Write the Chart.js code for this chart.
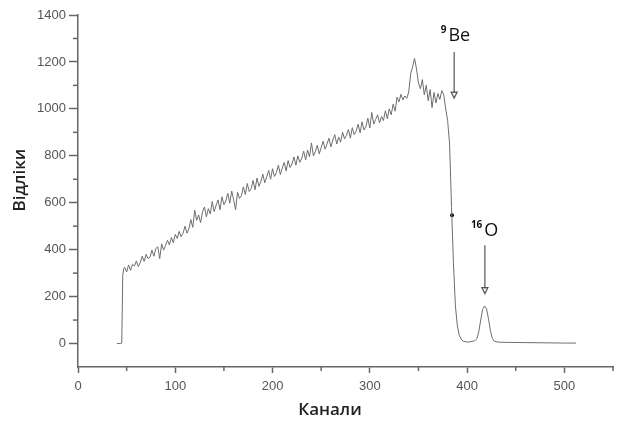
<!DOCTYPE html>
<html>
<head>
<meta charset="utf-8">
<script src="https://cdn.jsdelivr.net/npm/chart.js@4"></script>
<style>
  html, body { margin: 0; padding: 0; background: #fff; }
  #wrap { width: 617px; height: 421px; }
</style>
</head>
<body>
<div id="wrap"><canvas id="spectrum"></canvas></div>
<script>
// Канали (x) і відліки (y)
const kanaly = [
  40, 42, 44, 45, 46, 47, 48,
  50, 52, 54, 56, 58, 60, 62, 64, 66, 68, 70, 72, 74, 76, 78, 80, 82, 84, 86, 88, 90, 92, 94, 96, 98,
  100, 102, 104, 106, 108, 110, 112, 114, 116, 118, 120, 122, 124, 126, 128, 130, 132, 134, 136, 138, 140,
  142, 144, 146, 148, 150, 152, 154, 156, 158, 160, 162, 164, 166, 168, 170, 172, 174, 176, 178, 180,
  182, 184, 186, 188, 190, 192, 194, 196, 198, 200, 202, 204, 206, 208, 210, 212, 214, 216, 218, 220,
  222, 224, 226, 228, 230, 232, 234, 236, 238, 240, 242, 244, 246, 248, 250, 252, 254, 256, 258, 260,
  262, 264, 266, 268, 270, 272, 274, 276, 278, 280, 282, 284, 286, 288, 290, 292, 294, 296, 298, 300,
  302, 304, 306, 308, 310, 312, 314, 316, 318, 320, 322, 324, 326, 328, 330, 332, 334, 336, 338, 340,
  342, 344, 346, 348, 350, 352, 354, 356, 358, 360, 362, 364, 366, 368, 370, 372, 374, 376,
  378, 380, 382, 384, 386, 388, 390, 392, 394, 396, 400, 404, 408, 410, 412, 414, 416, 418, 420,
  422, 424, 426, 428, 432, 440, 460, 480, 500, 512
];
const vidliky = [
  0, 0, 0, 2, 290, 318, 325,
  305, 335, 312, 338, 330, 352, 328, 345, 372, 350,
  380, 362, 368, 398, 372, 405, 412, 362, 425, 398,
  418, 440, 420, 452, 430, 465, 448, 478, 455, 470,
  500, 470, 488, 528, 495, 568, 525, 548, 515, 560,
  582, 540, 575, 552, 605, 562, 590, 612, 570, 625,
  592, 608, 640, 598, 650, 612, 570, 645, 618, 630,
  668, 635, 682, 648, 660, 695, 655, 705, 670, 690,
  722, 685, 710, 738, 700, 745, 712, 728, 760, 720,
  748, 772, 735, 780, 750, 765, 795, 760, 800, 772,
  790, 820, 782, 825, 795, 855, 800, 818, 845, 808,
  835, 862, 828, 850, 875, 838, 868, 890, 850, 880,
  858, 900, 872, 888, 912, 875, 920, 890, 905, 935,
  898, 945, 910, 925, 960, 918, 985, 935, 955, 975,
  940, 968, 950, 992, 958, 1000, 975, 1020, 990, 1050,
  1030, 1062, 1038, 1055, 1045, 1072, 1150, 1180, 1215, 1170,
  1110, 1085, 1125, 1060, 1100, 1035, 1082, 1005, 1070, 1025,
  1065, 1040, 1078, 1060,
  1000, 950, 850, 580, 340, 160, 75, 35, 18, 10, 6, 8, 12, 20, 50, 100, 145, 160, 148,
  105, 55, 22, 10, 6, 5, 4, 3, 2, 2
];

// позначена точка на спаді кривої
const markX = [384.5];
const markY = [547];

// підписи піків і стрілки (канал, відліки)
const peakLabels = [['9', 'Be'], ['16', 'O']];
const labelX = [388, 418];
const labelY = [1318, 490];
const arrowX = [386.7, 418.3];
const arrowFrom = [1242, 419];
const arrowTo = [1046, 213];

const xMinor = [50, 150, 250, 350, 450, 550];
const yMinor = [100, 300, 500, 700, 900, 1100, 1300];

const axisColor = '#666';

const extras = {
  id: 'extras',
  afterDraw(chart) {
    const ctx = chart.ctx;
    const xs = chart.scales.x;
    const ys = chart.scales.y;
    const area = chart.chartArea;
    ctx.save();

    // дрібні поділки
    ctx.strokeStyle = axisColor;
    ctx.lineWidth = 1.5;
    xMinor.forEach(v => {
      const px = xs.getPixelForValue(v);
      ctx.beginPath();
      ctx.moveTo(px, area.bottom);
      ctx.lineTo(px, area.bottom + 4);
      ctx.stroke();
    });
    yMinor.forEach(v => {
      const py = ys.getPixelForValue(v);
      ctx.beginPath();
      ctx.moveTo(area.left, py);
      ctx.lineTo(area.left - 5, py);
      ctx.stroke();
    });

    // стрілки
    ctx.strokeStyle = '#555';
    ctx.lineWidth = 1.2;
    arrowX.forEach((c, i) => {
      const px = xs.getPixelForValue(c);
      const y1 = ys.getPixelForValue(arrowFrom[i]);
      const y2 = ys.getPixelForValue(arrowTo[i]);
      ctx.beginPath();
      ctx.moveTo(px, y1);
      ctx.lineTo(px, y2 - 5);
      ctx.stroke();
      ctx.beginPath();
      ctx.moveTo(px - 3, y2 - 6);
      ctx.lineTo(px + 3, y2 - 6);
      ctx.lineTo(px, y2);
      ctx.closePath();
      ctx.stroke();
    });

    // підписи ізотопів
    ctx.fillStyle = '#111';
    ctx.textBaseline = 'alphabetic';
    peakLabels.forEach((lab, i) => {
      ctx.font = 'bold 10px "Open Sans"';
      const wSup = ctx.measureText(lab[0]).width;
      ctx.font = '18px "Open Sans"';
      const wMain = ctx.measureText(lab[1]).width;
      const cx = xs.getPixelForValue(labelX[i]);
      const cy = ys.getPixelForValue(labelY[i]);
      const start = cx - (wSup + 2 + wMain) / 2;
      ctx.textAlign = 'left';
      ctx.font = 'bold 10px "Open Sans"';
      ctx.fillText(lab[0], start, cy - 1);
      ctx.font = '18px "Open Sans"';
      ctx.fillText(lab[1], start + wSup + 2, cy + 7);
    });

    // назви осей
    ctx.fillStyle = '#222';
    ctx.font = '600 17px "Open Sans"';
    ctx.textAlign = 'center';
    ctx.textBaseline = 'middle';
    ctx.fillText('Канали', 330, 410);
    ctx.translate(20, 180);
    ctx.rotate(-Math.PI / 2);
    ctx.fillText('Відліки', 0, 0);
    ctx.restore();
  }
};

const spectr = kanaly.map((k, i) => ({ x: k, y: vidliky[i] }));
const mark = markX.map((k, i) => ({ x: k, y: markY[i] }));

new Chart(document.getElementById('spectrum'), {
  type: 'line',
  data: {
    datasets: [{
      data: spectr,
      borderColor: '#6e6e6e',
      borderWidth: 1,
      pointRadius: 0,
      tension: 0,
      fill: false
    }, {
      type: 'scatter',
      data: mark,
      pointRadius: 2,
      pointBackgroundColor: '#111',
      pointBorderWidth: 0
    }]
  },
  options: {
    responsive: true,
    maintainAspectRatio: false,
    animation: false,
    layout: { padding: { top: 15, right: 0, left: 0, bottom: 0 } },
    plugins: {
      legend: { display: false },
      tooltip: { enabled: false }
    },
    scales: {
      x: {
        type: 'linear',
        min: 0,
        max: 550,
        afterFit: s => { s.height = 54; },
        border: { color: axisColor, width: 1.5 },
        grid: {
          drawOnChartArea: false,
          drawTicks: true,
          tickLength: 6,
          tickColor: axisColor,
          tickWidth: 1.5
        },
        ticks: {
          stepSize: 100,
          includeBounds: false,
          padding: 6,
          color: '#555',
          font: { family: 'Liberation Sans', size: 13 },
          callback: v => String(v)
        }
      },
      y: {
        type: 'linear',
        min: -100,
        max: 1400,
        afterFit: s => { s.width = 78; },
        border: { color: axisColor, width: 1.5 },
        grid: {
          drawOnChartArea: false,
          drawTicks: true,
          tickLength: 9,
          tickColor: axisColor,
          tickWidth: 1.5
        },
        ticks: {
          stepSize: 200,
          includeBounds: false,
          padding: 3,
          color: '#555',
          font: { family: 'Liberation Sans', size: 13 },
          callback: v => String(v)
        }
      }
    }
  },
  plugins: [extras]
});
</script>
</body>
</html>
